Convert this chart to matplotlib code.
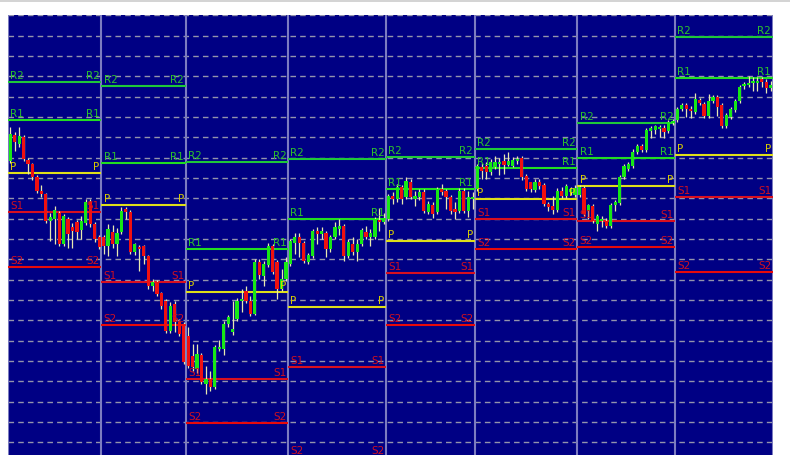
import numpy as np
import matplotlib
matplotlib.use("Agg")
import matplotlib.pyplot as plt
from matplotlib.lines import Line2D

# bars in each session (one pivot block per session)
bars_per_day = [21, 19, 23, 22, 20, 23, 22, 22]

opens = [
    147, 160, 155.5, 159, 147.5, 145.5, 139, 132, 130.5, 117, 118, 121, 105.5, 118, 114, 116.5, 112.5, 116, 126.5, 115.5, 109,
    109, 104.5, 111.5, 105.5, 111.5, 123, 121.5, 101.5, 104, 104.5, 99.5, 84.5, 86.5, 81, 77, 62, 75.5, 66.5, 65.5,
    59.5, 49.5, 43, 50, 35.5, 38, 34, 53, 53, 65.5, 61.5, 68, 77, 82, 77, 70.5, 96.5, 89.5, 95, 104.5, 96.5, 83, 88,
    95.5, 106, 109, 106, 96.5, 99.5, 112, 110.5, 111, 103, 109, 113, 114.5, 99.5, 105.5, 101.5, 105.5, 111.5, 109, 109, 117.5, 116.5,
    118, 129.5, 128, 134, 129, 136.5, 128, 129, 131.5, 121.5, 125, 121.5, 133, 132, 129, 123, 122, 132, 122, 128,
    133, 144, 144.5, 141.5, 144, 145.5, 147, 145, 144.5, 147, 148.5, 139.5, 136.5, 132.5, 136.5, 135, 125.5, 124.5, 122.5, 132, 129.5, 131.5, 130,
    130, 133.5, 122, 124.5, 115.5, 117, 117, 114.5, 125, 126, 139, 143, 144.5, 151.5, 154.5, 152.5, 162, 162.5, 163, 163.5, 162, 166,
    167.5, 173, 175, 173, 171.5, 177.5, 175.5, 169.5, 177, 179, 175, 164.5, 169, 172.5, 177, 184.5, 185, 186, 186, 188, 186.5, 183.5,
]
highs = [
    164, 161.5, 164, 160, 148.5, 146, 140, 135, 131, 121, 124.5, 122, 120.5, 119, 116, 117.5, 119.5, 128, 128, 116.5, 110,
    110, 115.5, 115, 113.5, 124, 124, 122.5, 106, 105, 105, 100, 88, 87.5, 81.5, 78, 76.5, 77, 68, 66.5,
    64, 55.5, 55.5, 51, 44.5, 42, 55, 57.5, 67, 70, 77, 78.5, 83, 84.5, 79.5, 98, 98, 97, 106, 105.5, 97.5, 93, 99,
    108, 111, 111, 107, 101, 113, 114, 114, 112, 110, 116.5, 118, 115.5, 108, 109, 108, 113.5, 114.5, 113, 119, 123.5, 121,
    130.5, 131.5, 135.5, 135, 139, 138, 132, 133, 133, 127, 126.5, 134, 135.5, 133, 130, 126.5, 133.5, 133.5, 132, 131.5,
    145.5, 146, 146.5, 148, 149.5, 148.5, 150.5, 151.5, 149, 149.5, 149.5, 140.5, 136.5, 138, 138, 136, 126.5, 129.5, 133.5, 134, 135.5, 134, 135,
    135, 134.5, 125.5, 125.5, 120.5, 119.5, 118.5, 126, 127.5, 140, 145.5, 146.5, 153, 155.5, 155.5, 163.5, 164.5, 165, 165, 165, 167.5, 168,
    174, 176, 176, 174.5, 181, 178.5, 176.5, 180.5, 180, 180, 176, 171, 174, 178, 185, 186.5, 189.5, 189, 189, 189, 188, 187,
]
lows = [
    146, 152, 154, 147, 140.5, 137.5, 131, 129, 116, 107, 105.5, 104.5, 104.5, 103.5, 103.5, 108, 108, 115, 114, 106.5, 103,
    100.5, 99.5, 103.5, 99.5, 110.5, 118, 100.5, 100, 92, 95.5, 83, 82, 79.5, 73, 61, 61, 61.5, 59.5, 45.5,
    43.5, 42, 41, 35.5, 30.5, 32, 33, 52, 50, 64, 60, 67, 71.5, 76, 69.5, 70, 88, 84.5, 94, 90.5, 78, 82, 87,
    94.5, 100.5, 99, 96, 95.5, 98.5, 105.5, 108, 99, 101.5, 108, 110, 97, 98.5, 100, 97, 104.5, 108, 104.5, 108, 112, 115.5,
    117, 125.5, 126.5, 125.5, 128, 128, 124.5, 127.5, 121, 120.5, 118.5, 120.5, 130, 123, 120.5, 118, 121, 121, 119, 123,
    132, 138, 138, 140, 143, 140, 140.5, 144.5, 144, 145.5, 137.5, 132, 131.5, 131.5, 133, 124.5, 122, 120.5, 121.5, 128.5, 128.5, 130, 129,
    129, 119.5, 118, 116, 112, 114, 113.5, 113.5, 122, 125, 138, 142, 143.5, 150.5, 151.5, 151.5, 158.5, 160.5, 159, 158.5, 161, 165,
    166.5, 172, 169, 168.5, 170.5, 175, 168.5, 168.5, 176, 169.5, 163.5, 163.5, 168, 171.5, 176, 183, 184, 182, 182, 184, 181, 182,
]
closes = [
    160.5, 156.5, 159.5, 148, 145.5, 139, 132, 130.5, 117, 119, 122.5, 105.5, 119.5, 110.5, 112, 111.5, 117, 126.5, 115.5, 108, 104,
    104.5, 113, 105.5, 111, 122, 121.5, 101.5, 105.5, 103, 99.5, 84.5, 86.5, 80.5, 74.5, 62, 74.5, 66.5, 60.5, 46.5,
    44.5, 44, 50.5, 36.5, 38, 34, 54, 54, 65.5, 69, 63, 77, 78, 77, 70.5, 96.5, 90, 95.5, 104.5, 91.5, 83, 88, 96.5,
    107, 109, 106, 97, 100, 112, 110.5, 112, 103, 109, 114, 114.5, 99.5, 106.5, 101.5, 105.5, 112.5, 109, 111, 118, 116.5, 118.5,
    129.5, 128, 134, 128, 137, 129, 129.5, 131.5, 122, 125.5, 120.5, 133, 131.5, 129, 122, 121.5, 132, 122, 129, 129,
    144.5, 142, 141.5, 146.5, 146.5, 146.5, 145, 147, 147.5, 148, 139, 133, 133, 136.5, 134.5, 125.5, 124, 122.5, 132, 129.5, 134.5, 133, 133.5,
    134, 120.5, 125, 117, 119.5, 118, 114.5, 125, 126.5, 139, 144.5, 145.5, 151.5, 154.5, 152.5, 162.5, 163.5, 164.5, 163.5, 161.5, 166.5, 167,
    173, 175, 173, 172, 178, 176, 169.5, 177, 179, 174, 164.5, 170, 173, 177, 184, 185.5, 186, 186.5, 187, 186.5, 183.5, 185,
]

# daily pivot levels
r2 = [186.5, 184.5, 146.5, 148, 149, 153, 166, 209]
r1 = [167.5, 146, 103, 118, 133, 143.5, 148.5, 188.5]
pp = [141, 125, 81.5, 74, 107, 128, 134.5, 150]
s1 = [121.5, 86.5, 38, 44, 91, 118, 117, 129]
s2 = [94, 65, 16, -1, 65, 103, 104, 91.5]

navy = "#000084"
fig = plt.figure(figsize=(7.9, 4.56), dpi=100, facecolor="white")
ax = fig.add_axes([8 / 790, 0, 765 / 790, 440 / 456])
ax.set_facecolor(navy)

o = np.array(opens); h = np.array(highs); l = np.array(lows); c = np.array(closes)
x = np.arange(len(c)) + 0.5
edges = np.concatenate([[0], np.cumsum(bars_per_day)])

# dashed horizontal grid
grid_top = 219.85
grid_step = 10.165
ax.set_yticks(grid_top - grid_step * np.arange(22))
ax.grid(axis="y", color="#9494ac", linestyle=(0, (4, 3)), linewidth=1)
ax.tick_params(length=0, labelleft=False, labelbottom=False)
for s in ax.spines.values():
    s.set_visible(False)

# session separators
ax.vlines(edges, 0, 220, color="#7c7cc0", linewidth=1.5, zorder=2)

# pivot lines + labels
levels = [("R2", r2, "#1fc83a", "#2cc02c"), ("R1", r1, "#22dd22", "#2cc02c"),
          ("P", pp, "#dede1a", "#d8cc00"), ("S1", s1, "#d81020", "#d01020"),
          ("S2", s2, "#e80a0a", "#d01020")]
for d in range(len(bars_per_day)):
    x0, x1 = edges[d], edges[d + 1]
    for name, vals, lc, tc in levels:
        v = vals[d]
        ax.hlines(v, x0, x1, color=lc, linewidth=1.5, zorder=2)
        ax.text(x0 + 0.5, v + 1.2, name, color=tc, fontsize=7.5, ha="left", va="bottom", zorder=5)
        ax.text(x1 - 0.4, v + 1.2, name, color=tc, fontsize=7.5, ha="right", va="bottom", zorder=5)

# candles
up = c >= o
ax.vlines(x, l, h, color="#e8e8b0", linewidth=0.9, zorder=3)
ax.bar(x, np.maximum(np.abs(c - o), 0.8), bottom=np.minimum(o, c), width=0.72,
       color=np.where(up, "#16e816", "#f01010"), linewidth=0, zorder=4)

ax.set_xlim(0, edges[-1])
ax.set_ylim(0, 220)

fig.add_artist(Line2D([0, 1], [1 - 1.5 / 456] * 2, color="#cccccc", linewidth=1.2))
fig.savefig("out.png", dpi=100, facecolor="white")
